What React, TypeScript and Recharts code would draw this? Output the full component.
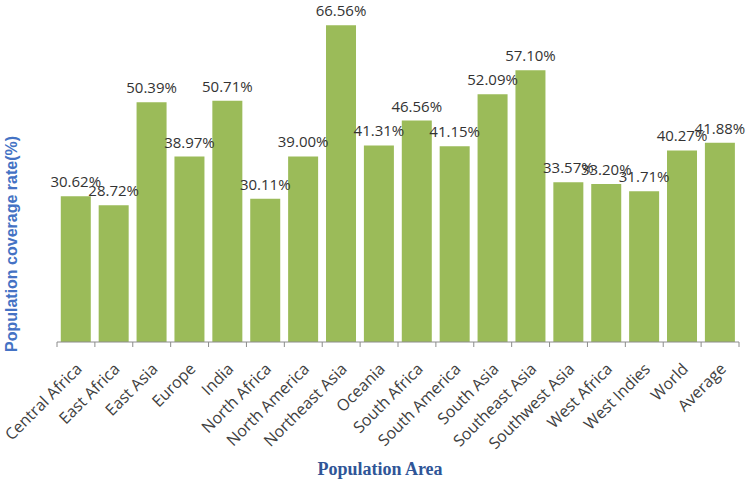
import { BarChart, Bar, XAxis, YAxis, LabelList } from 'recharts';

const AREAS = [
  'Central Africa', 'East Africa', 'East Asia', 'Europe', 'India', 'North Africa',
  'North America', 'Northeast Asia', 'Oceania', 'South Africa', 'South America',
  'South Asia', 'Southeast Asia', 'Southwest Asia', 'West Africa', 'West Indies',
  'World', 'Average',
];

const COVERAGE = [
  30.62, 28.72, 50.39, 38.97, 50.71, 30.11, 39.0, 66.56, 41.31, 46.56, 41.15,
  52.09, 57.1, 33.57, 33.2, 31.71, 40.27, 41.88,
];

const DATA = AREAS.map((area, i) => ({ area, rate: COVERAGE[i] }));

const LEFT = 57;
const RIGHT = 10;
const W = 749;
const BAND = (W - LEFT - RIGHT) / AREAS.length;

function AreaTick(props: any) {
  const { x, y, payload, index } = props;
  const tickY = y - 8;
  return (
    <g>
      <line x1={x - BAND / 2} x2={x - BAND / 2} y1={tickY} y2={tickY + 5} stroke="#8c8c8c" />
      {index === AREAS.length - 1 && (
        <line x1={x + BAND / 2} x2={x + BAND / 2} y1={tickY} y2={tickY + 5} stroke="#8c8c8c" />
      )}
      <text
        x={x + 7}
        y={y + 20}
        textAnchor="end"
        fontSize={16}
        fill="#404040"
        fontFamily="Open Sans"
        transform={`rotate(-45, ${x + 7}, ${y + 20})`}
      >
        {payload.value}
      </text>
    </g>
  );
}

export default function App() {
  return (
    <div style={{ position: 'absolute', left: 0, top: 0, background: '#fff' }}>
      <BarChart
        width={W}
        height={482}
        data={DATA}
        margin={{ top: 9, right: RIGHT, left: 0, bottom: 0 }}
        barCategoryGap="10%"
      >
        <XAxis
          dataKey="area"
          interval={0}
          height={140}
          tickLine={false}
          axisLine={{ stroke: '#8c8c8c' }}
          tick={<AreaTick />}
          label={{
            content: () => (
              <text
                x={380}
                y={475}
                textAnchor="middle"
                fill="#2f5597"
                fontSize={18}
                fontWeight={700}
                fontFamily="Liberation Serif"
              >
                Population Area
              </text>
            ),
          }}
        />
        <YAxis
          width={LEFT}
          domain={[0, 70]}
          axisLine={false}
          tickLine={false}
          tick={false}
          label={{
            content: () => (
              <text
                x={17}
                y={244}
                textAnchor="middle"
                fill="#4472c4"
                fontSize={16}
                fontWeight={700}
                fontFamily="Liberation Sans"
                transform="rotate(-90, 17, 244)"
              >
                Population coverage rate(%)
              </text>
            ),
          }}
        />
        <Bar dataKey="rate" fill="#9bbb59" isAnimationActive={false}>
          <LabelList
            dataKey="rate"
            position="top"
            offset={9}
            fontSize={15}
            fill="#333333"
            fontFamily="Open Sans"
            formatter={(v: any) => `${Number(v).toFixed(2)}%`}
          />
        </Bar>
      </BarChart>
    </div>
  );
}
